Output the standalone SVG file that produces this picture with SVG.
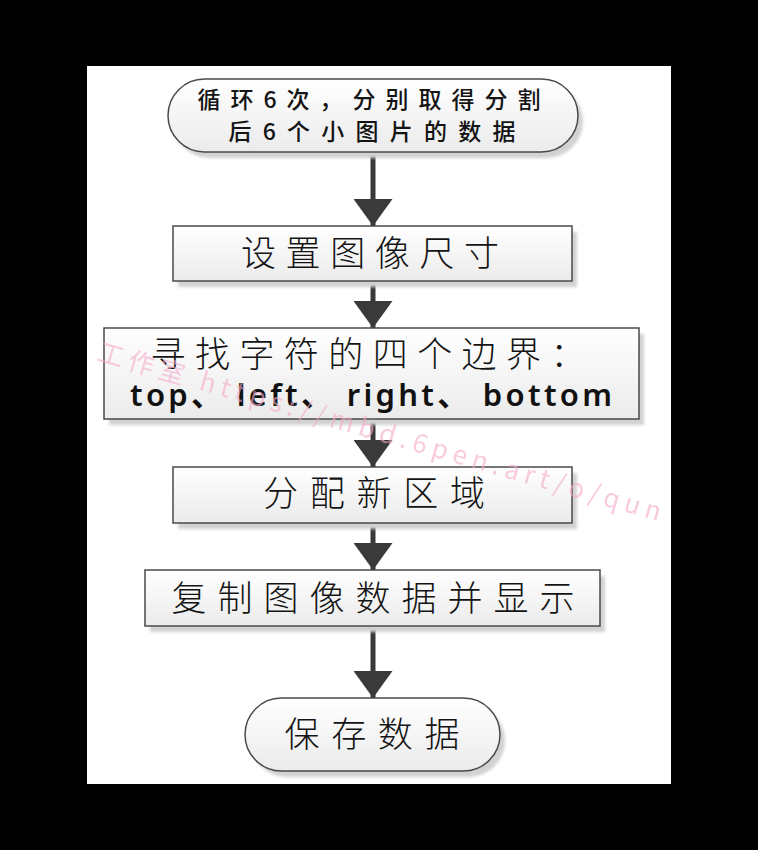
<svg xmlns="http://www.w3.org/2000/svg" width="758" height="850" viewBox="0 0 758 850">
<style>
.box{fill:url(#g);stroke:#4a4a4a;stroke-width:1.5}
.sh{fill:#d2d2d2;filter:url(#blur)}
.cn{font-family:"Noto Sans CJK SC","Noto Sans",sans-serif;fill:#141414;text-anchor:middle}
.big{font-size:35px;font-weight:300}
.mid{font-size:23px;font-weight:500}
.en{font-family:"Noto Sans","Open Sans","Noto Sans CJK SC",sans-serif;font-size:31px;font-weight:600;fill:#111;text-anchor:middle}
.wm{font-family:"Noto Sans CJK SC","Noto Sans",sans-serif;font-size:26px;fill:#f4a9cb;opacity:0.6}
.conn line{stroke:#3a3a3a;stroke-width:5}
</style>
<defs>
<linearGradient id="g" x1="0" y1="0" x2="0" y2="1">
<stop offset="0" stop-color="#ffffff"/>
<stop offset="1" stop-color="#ebebeb"/>
</linearGradient>
<filter id="blur" x="-10%" y="-20%" width="120%" height="140%"><feGaussianBlur stdDeviation="1.5"/></filter>
<marker id="ah" viewBox="0 0 27 39" markerUnits="userSpaceOnUse" markerWidth="27" markerHeight="39" refX="27" refY="19.5" orient="auto">
<path d="M0,0 L27,19.5 L0,39 Z" fill="#3a3a3a"/>
</marker>
</defs>
<rect width="758" height="850" fill="#000"/>
<rect x="87" y="66" width="584" height="718" fill="#fff"/>

<g class="conn">
<line x1="373" y1="152" x2="373" y2="226" marker-end="url(#ah)"/>
<line x1="373" y1="281" x2="373" y2="328" marker-end="url(#ah)"/>
<line x1="373" y1="419" x2="373" y2="467" marker-end="url(#ah)"/>
<line x1="373" y1="523" x2="373" y2="570" marker-end="url(#ah)"/>
<line x1="373" y1="626" x2="373" y2="698" marker-end="url(#ah)"/>
</g>

<g id="n1">
<rect class="sh" x="173" y="85" width="410" height="73" rx="36.5"/>
<rect class="box" x="168" y="79" width="410" height="73" rx="36.5"/>
<text class="cn mid" x="369" y="108" textLength="343" lengthAdjust="spacing">循环6次，分别取得分割</text>
<text class="cn mid" x="372" y="140" textLength="287" lengthAdjust="spacing">后6个小图片的数据</text>
</g>

<g id="n2">
<rect class="sh" x="178" y="232" width="399" height="55"/>
<rect class="box" x="173" y="226" width="399" height="55"/>
<text class="cn big" x="370" y="266" textLength="258" lengthAdjust="spacing">设置图像尺寸</text>
</g>

<g id="n3">
<rect class="sh" x="109" y="334" width="535" height="91"/>
<rect class="box" x="104" y="328" width="535" height="91"/>
<text class="cn big" x="368" y="367" textLength="435" lengthAdjust="spacing">寻找字符的四个边界：</text>
<text class="en" x="371" y="406" textLength="482" lengthAdjust="spacing">top、 left、 right、 bottom</text>
</g>

<g id="n4">
<rect class="sh" x="178" y="473" width="399" height="56"/>
<rect class="box" x="173" y="467" width="399" height="56"/>
<text class="cn big" x="374" y="506" textLength="222" lengthAdjust="spacing">分配新区域</text>
</g>

<g id="n5">
<rect class="sh" x="150" y="576" width="455" height="56"/>
<rect class="box" x="145" y="570" width="455" height="56"/>
<text class="cn big" x="373" y="611" textLength="403" lengthAdjust="spacing">复制图像数据并显示</text>
</g>

<g id="n6">
<rect class="sh" x="250" y="704" width="255" height="73" rx="36.5"/>
<rect class="box" x="245" y="698" width="255" height="73" rx="36.5"/>
<text class="cn big" x="372" y="747" textLength="175" lengthAdjust="spacing">保存数据</text>
</g>

<text class="wm" x="96" y="360" transform="rotate(16 96 360)" textLength="585" lengthAdjust="spacing">工作室 https://mbd.6pen.art/o/qun</text>
</svg>
